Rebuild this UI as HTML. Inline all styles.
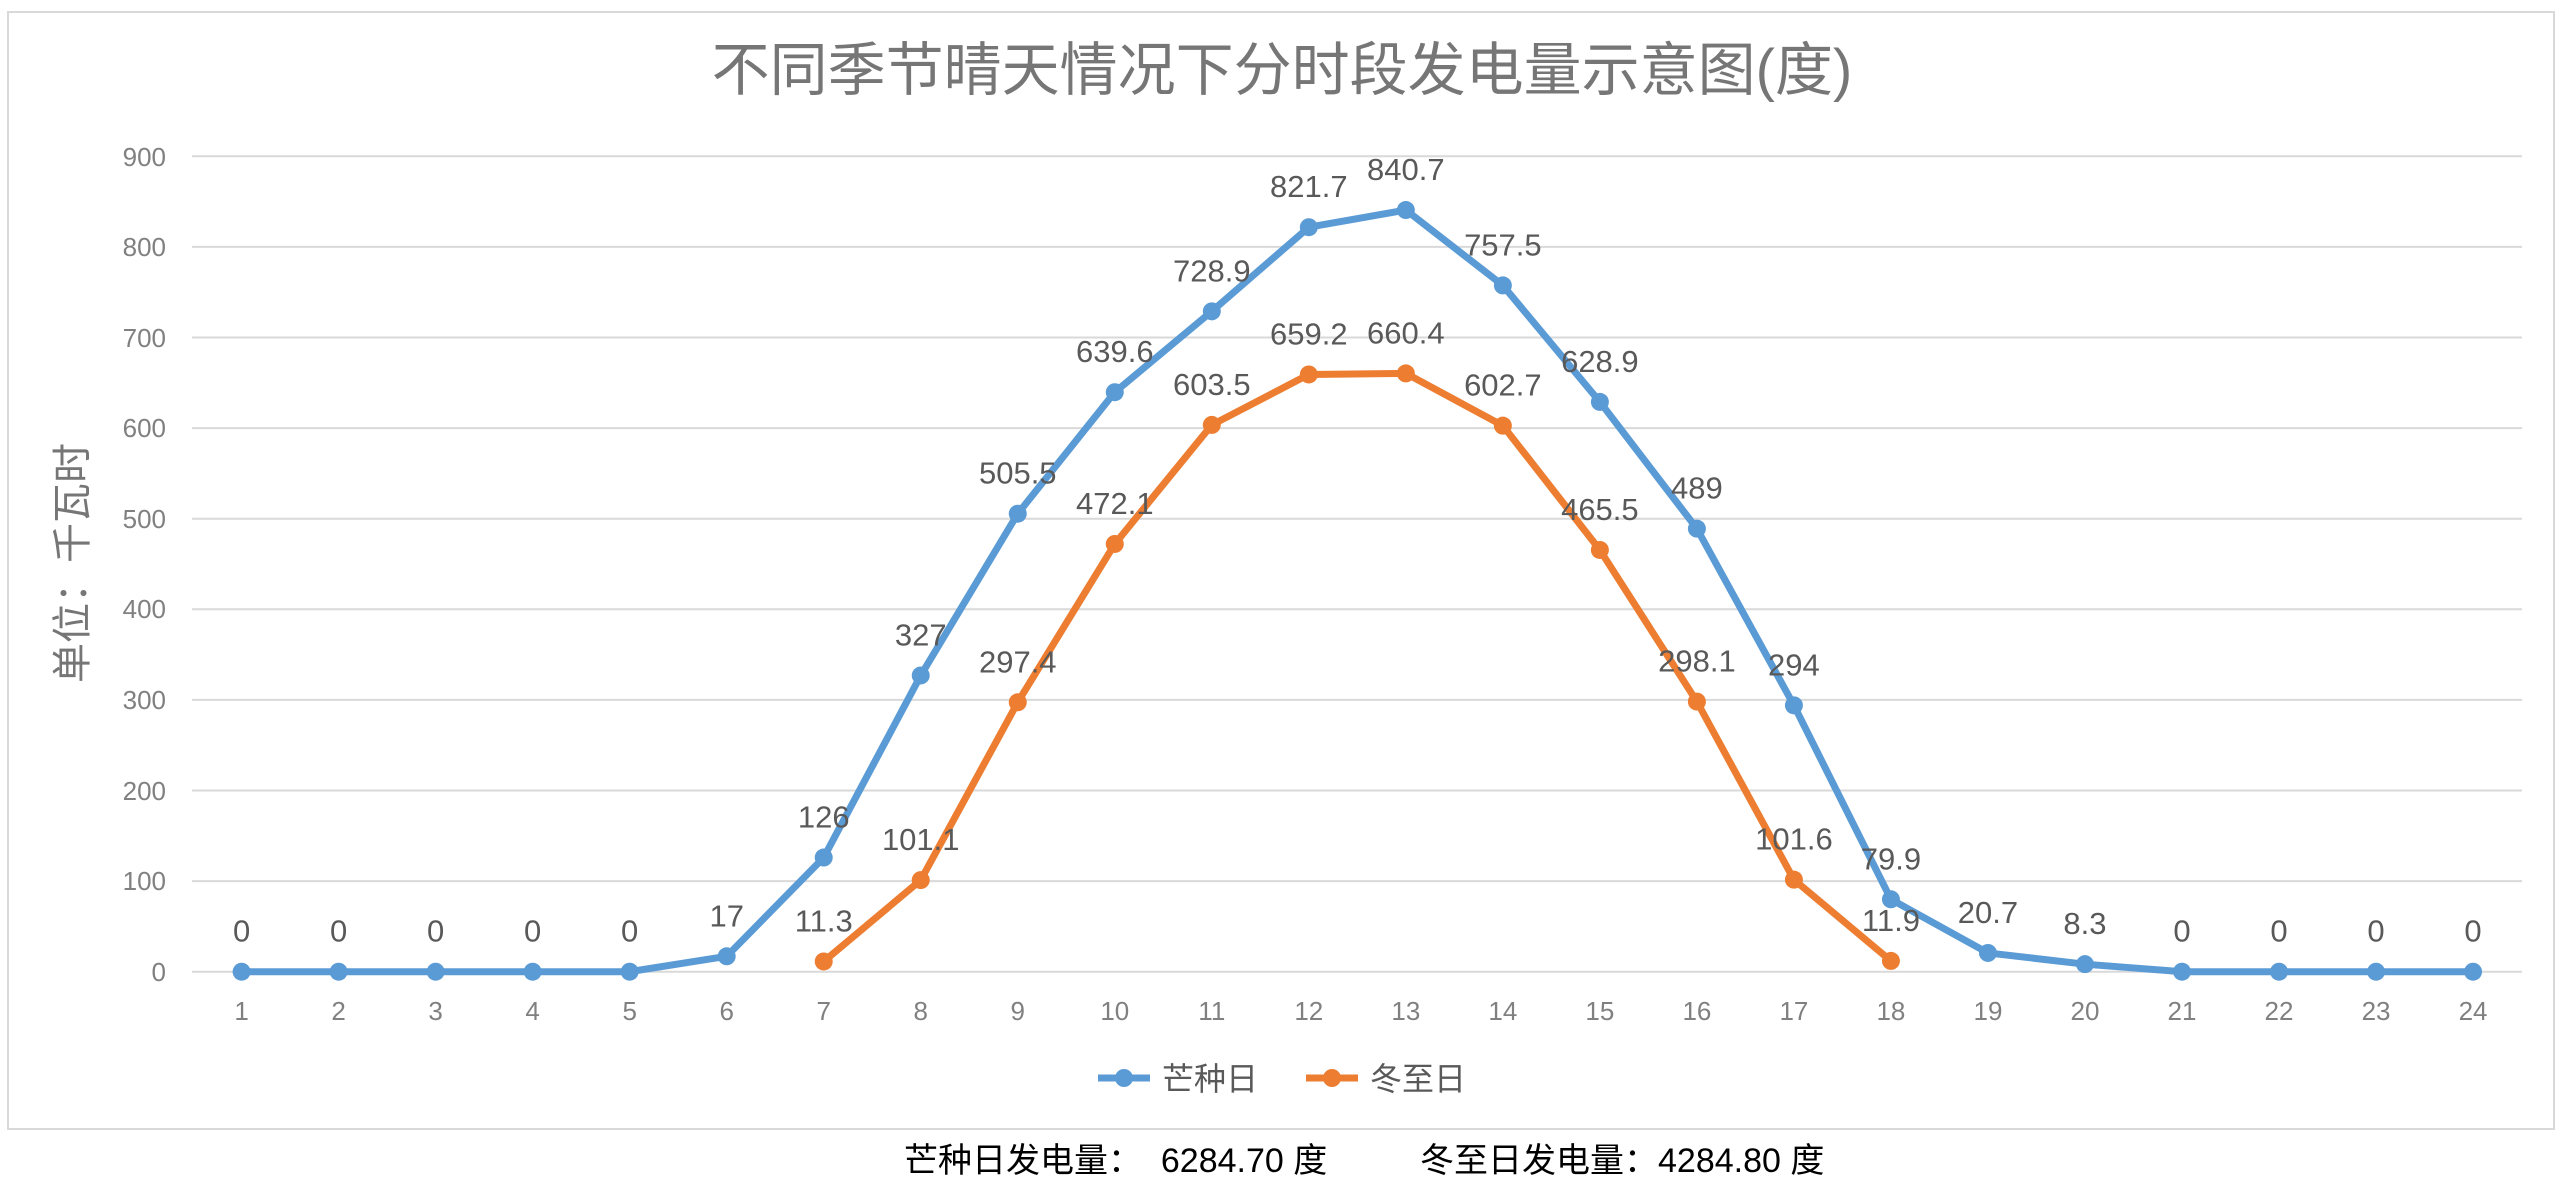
<!DOCTYPE html>
<html><head><meta charset="utf-8"><style>
html,body{margin:0;padding:0;background:#fff;}
svg{display:block;}
text{font-family:"Liberation Sans","Noto Sans CJK SC",sans-serif;}
</style></head><body>
<svg width="2560" height="1192" viewBox="0 0 2560 1192" xmlns="http://www.w3.org/2000/svg">
<rect x="8" y="12" width="2546" height="1117" fill="#fff" stroke="#d9d9d9" stroke-width="2"/>
<text x="1282" y="90" text-anchor="middle" font-size="58" fill="#767676">不同季节晴天情况下分时段发电量示意图(度)</text>
<g stroke="#d9d9d9" stroke-width="2">
<line x1="192" x2="2522" y1="156.3" y2="156.3"/><line x1="192" x2="2522" y1="246.9" y2="246.9"/>
<line x1="192" x2="2522" y1="337.5" y2="337.5"/><line x1="192" x2="2522" y1="428.1" y2="428.1"/>
<line x1="192" x2="2522" y1="518.7" y2="518.7"/><line x1="192" x2="2522" y1="609.3" y2="609.3"/>
<line x1="192" x2="2522" y1="699.9" y2="699.9"/><line x1="192" x2="2522" y1="790.5" y2="790.5"/>
<line x1="192" x2="2522" y1="881.1" y2="881.1"/><line x1="192" x2="2522" y1="971.7" y2="971.7"/>
</g>
<g font-size="26" fill="#808080" text-anchor="end">
<text x="166" y="166">900</text><text x="166" y="256">800</text><text x="166" y="347">700</text>
<text x="166" y="437">600</text><text x="166" y="528">500</text><text x="166" y="618">400</text>
<text x="166" y="709">300</text><text x="166" y="800">200</text><text x="166" y="890">100</text>
<text x="166" y="981">0</text>
</g>
<text transform="translate(86,563) rotate(-90)" text-anchor="middle" font-size="40" fill="#767676">单位：千瓦时</text>
<g id="xl" font-size="26" fill="#808080" text-anchor="middle"></g>
<g id="plot"></g>
<g>
<line x1="1098" x2="1150" y1="1078" y2="1078" stroke="#5B9BD5" stroke-width="7"/>
<circle cx="1124" cy="1078" r="9" fill="#5B9BD5"/>
<text x="1162" y="1090" font-size="32" fill="#595959">芒种日</text>
<line x1="1306" x2="1358" y1="1078" y2="1078" stroke="#ED7D31" stroke-width="7"/>
<circle cx="1332" cy="1078" r="9" fill="#ED7D31"/>
<text x="1370" y="1090" font-size="32" fill="#595959">冬至日</text>
</g>
<text x="904" y="1172" font-size="34" fill="#000" xml:space="preserve">芒种日发电量：  6284.70 度</text>
<text x="1420" y="1172" font-size="34" fill="#000" xml:space="preserve">冬至日发电量：4284.80 度</text>
<script>
var ns="http://www.w3.org/2000/svg";
function X(i){return 241.6+(i-1)*97.02;}
function Y(v){return 971.7-v*0.906;}
var xl=document.getElementById('xl');
for(var i=1;i<=24;i++){var t=document.createElementNS(ns,'text');t.setAttribute('x',X(i));t.setAttribute('y',1020);t.textContent=i;xl.appendChild(t);}
var A=[0,0,0,0,0,17,126,327,505.5,639.6,728.9,821.7,840.7,757.5,628.9,489,294,79.9,20.7,8.3,0,0,0,0];
var B=[11.3,101.1,297.4,472.1,603.5,659.2,660.4,602.7,465.5,298.1,101.6,11.9];
var g=document.getElementById('plot');
function series(data,start,col){
 var p='';data.forEach(function(v,k){p+=(k?'L':'M')+X(start+k)+' '+Y(v);});
 var path=document.createElementNS(ns,'path');path.setAttribute('d',p);path.setAttribute('fill','none');
 path.setAttribute('stroke',col);path.setAttribute('stroke-width','7');path.setAttribute('stroke-linejoin','round');g.appendChild(path);
 data.forEach(function(v,k){var c=document.createElementNS(ns,'circle');c.setAttribute('cx',X(start+k));c.setAttribute('cy',Y(v));c.setAttribute('r',9);c.setAttribute('fill',col);g.appendChild(c);
  var t=document.createElementNS(ns,'text');t.setAttribute('x',X(start+k));t.setAttribute('y',Y(v)-30);t.setAttribute('text-anchor','middle');t.setAttribute('font-size','31');t.setAttribute('fill','#595959');t.textContent=v;g.appendChild(t);});
}
series(A,1,'#5B9BD5');series(B,7,'#ED7D31');
</script>
</svg>
</body></html>
